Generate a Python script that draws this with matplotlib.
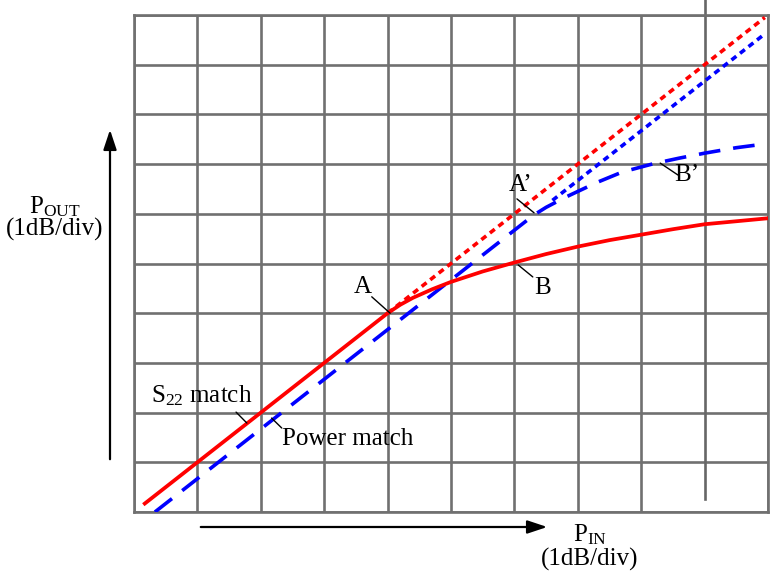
import matplotlib
matplotlib.use("Agg")
import matplotlib.pyplot as plt
import numpy as np

plt.rcParams['font.family'] = ['Liberation Serif', 'DejaVu Serif']
plt.rcParams['mathtext.default'] = 'regular'

# Data in grid divisions (1 dB/div)
s22_x = [0.17, 4.0, 4.2, 4.4, 4.7, 5.0, 5.5, 6.0, 6.5, 7.0, 7.5, 8.0, 8.5, 9.0, 9.5, 10.0]
s22_y = [0.17, 4.0, 4.17, 4.31, 4.48, 4.63, 4.84, 5.02, 5.19, 5.34, 5.47, 5.58, 5.69, 5.79, 5.85, 5.91]
s22_lin_x = [4.0, 9.95]
s22_lin_y = [4.0, 9.95]

pm_x = [0.33, 6.3, 6.5, 6.8, 7.3, 7.7, 8.2, 8.6, 9.0, 9.5, 9.92]
pm_y = [0.0, 5.97, 6.13, 6.33, 6.63, 6.84, 7.01, 7.12, 7.22, 7.33, 7.40]
pm_lin_x = [6.6, 9.92]
pm_lin_y = [6.27, 9.59]

grid_x = [0, 1, 2, 3, 4, 5, 6, 7, 8, 10]
grid_y = list(range(11))

W, H = 770, 574
fig = plt.figure(figsize=(W / 100, H / 100), dpi=100)
x0, x1, y0, y1 = 134, 768, 15, 512
ax = fig.add_axes([x0 / W, 1 - y1 / H, (x1 - x0) / W, (y1 - y0) / H])
ax.set_xlim(0, 10)
ax.set_ylim(0, 10)
ax.set_xticks(grid_x)
ax.set_yticks(grid_y)
ax.tick_params(length=0, labelbottom=False, labelleft=False)
gcol = '#707070'
ax.grid(True, color=gcol, linewidth=1.9)
ax.set_axisbelow(True)
for s in ax.spines.values():
    s.set_color(gcol)
    s.set_linewidth(1.9)

# extra dark vertical line (does not reach the bottom)
ax.plot([9, 9], [0.26, 10.4], color='#666666', lw=1.9, clip_on=False, zorder=1.5)

red = '#ff0000'
blue = '#0000ff'
ax.plot(s22_lin_x, s22_lin_y, color=red, lw=2.6, linestyle=(0, (1.7, 1.3)), zorder=3)
ax.plot(pm_lin_x, pm_lin_y, color=blue, lw=2.6, linestyle=(0, (1.7, 1.3)), zorder=3)
ax.plot(pm_x, pm_y, color=blue, lw=2.6, linestyle=(0, (6, 3.6)), zorder=3)
ax.plot(s22_x, s22_y, color=red, lw=2.7, zorder=4)

fs = 18
lp = dict(arrowstyle='-', color='black', lw=1.0, shrinkA=0, shrinkB=0)
def label(text, txy, a, b, ha='center'):
    ax.text(txy[0], txy[1], text, fontsize=fs, ha=ha, va='center', zorder=5)
    ax.annotate('', xy=b, xytext=a, arrowprops=lp, zorder=5)

label('A', (3.61, 4.53), (3.75, 4.33), (4.04, 4.0))
label('A\u2019', (6.1, 6.58), (6.04, 6.30), (6.31, 6.02))
label('B', (6.44, 4.51), (6.06, 4.97), (6.29, 4.73))
label('B\u2019', (8.72, 6.78), (8.30, 7.02), (8.58, 6.78))
label('$S_{22}$ match', (1.06, 2.35), (1.61, 2.01), (1.78, 1.79))
label('Power match', (2.34, 1.47), (2.17, 1.89), (2.33, 1.69), ha='left')

# axis arrows (figure pixel coords)
def fp(px, py):
    return (px / W, 1 - py / H)
astyle = '-|>,head_length=0.6,head_width=0.2'
fig.add_artist(matplotlib.patches.FancyArrowPatch(fp(110, 462), fp(110, 127),
               transform=fig.transFigure, arrowstyle=astyle,
               mutation_scale=20, color='black', lw=1.6))
fig.add_artist(matplotlib.patches.FancyArrowPatch(fp(198, 527), fp(550, 527),
               transform=fig.transFigure, arrowstyle=astyle,
               mutation_scale=20, color='black', lw=1.6))

fig.text(*fp(55, 207), '$P_{OUT}$', fontsize=fs, ha='center', va='center')
fig.text(*fp(55, 229), '(1dB/div)', fontsize=fs, ha='center', va='center')
fig.text(*fp(590, 535), '$P_{IN}$', fontsize=fs, ha='center', va='center')
fig.text(*fp(590, 559), '(1dB/div)', fontsize=fs, ha='center', va='center')

fig.savefig('out.png', dpi=100)
